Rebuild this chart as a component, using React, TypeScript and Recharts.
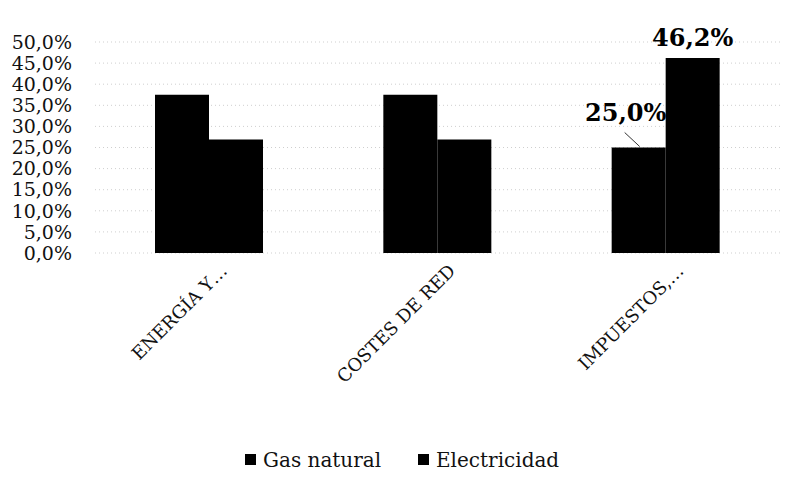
import React from "react";
import { BarChart, Bar, XAxis, YAxis, CartesianGrid, Legend, LabelList } from "recharts";

const categories = ["ENERGÍA Y…", "COSTES DE RED", "IMPUESTOS,…"];
const gasNatural = [37.5, 37.5, 25.0];
const electricidad = [26.9, 26.9, 46.2];
const showLabel = [false, false, true];
const yTicks = [0, 5, 10, 15, 20, 25, 30, 35, 40, 45, 50];

const data = categories.map((name, i) => ({
  name,
  gas: gasNatural[i],
  elec: electricidad[i],
}));

const FONT = "'DejaVu Serif', 'Liberation Serif', serif";
const pct = (v: number) => v.toFixed(1).replace(".", ",") + "%";

const XTick = ({ x, y, payload }: any) => {
  const tx = x + 19;
  const ty = y + 11;
  return (
    <text x={tx} y={ty} textAnchor="end" transform={`rotate(-45, ${tx}, ${ty})`} fontFamily={FONT} fontSize={18} fill="#111">
      {payload.value}
    </text>
  );
};

// label with a small leader line, placed up-left of the bar
const GasLabel = (props: any) => {
  const { x, y, width, value, index } = props;
  if (!showLabel[index]) return null;
  const cx = x + width / 2;
  return (
    <g>
      <line x1={cx - 14} y1={y - 15} x2={cx + 1} y2={y - 1} stroke="#333" strokeWidth={1} />
      <text x={cx - 13} y={y - 27} textAnchor="middle" fontFamily={FONT} fontSize={24} fontWeight="bold" fill="#000">
        {pct(value)}
      </text>
    </g>
  );
};

const ElecLabel = (props: any) => {
  const { x, y, width, value, index } = props;
  if (!showLabel[index]) return null;
  return (
    <text x={x + width / 2} y={y - 12} textAnchor="middle" fontFamily={FONT} fontSize={24} fontWeight="bold" fill="#000">
      {pct(value)}
    </text>
  );
};

const LegendBox = () => (
  <svg width={800} height={30} style={{ display: "block", overflow: "visible" }}>
    {["Gas natural", "Electricidad"].map((s, i) => (
      <g key={s}>
        <rect x={245 + i * 173} y={7} width={11} height={11} fill="#000" />
        <text x={263 + i * 173} y={20} fontFamily={FONT} fontSize={20} fill="#111">
          {s}
        </text>
      </g>
    ))}
  </svg>
);

export default function App() {
  return (
    <div style={{ position: "absolute", left: 0, top: 0, background: "#fff", fontFamily: FONT }}>
      <BarChart width={800} height={497} data={data} margin={{ top: 42, right: 20, left: 0, bottom: 20 }} barGap={0} barSize={54}>
        <CartesianGrid vertical={false} stroke="#cfcfcf" strokeDasharray="1 3" />
        <XAxis dataKey="name" interval={0} height={194} tick={<XTick />} tickLine={false} axisLine={false} />
        <YAxis
          domain={[0, 50]}
          ticks={yTicks}
          width={95}
          tickFormatter={pct}
          tickLine={false}
          axisLine={false}
          tickSize={0}
          tickMargin={23}
          tick={{ fontFamily: FONT, fontSize: 19, fill: "#111" }}
          interval={0}
        />
        <Legend verticalAlign="bottom" content={<LegendBox />} wrapperStyle={{ left: 0, width: 800 }} />
        <Bar dataKey="gas" name="Gas natural" fill="#000" isAnimationActive={false}>
          <LabelList dataKey="gas" content={<GasLabel />} />
        </Bar>
        <Bar dataKey="elec" name="Electricidad" fill="#000" isAnimationActive={false}>
          <LabelList dataKey="elec" content={<ElecLabel />} />
        </Bar>
      </BarChart>
    </div>
  );
}
